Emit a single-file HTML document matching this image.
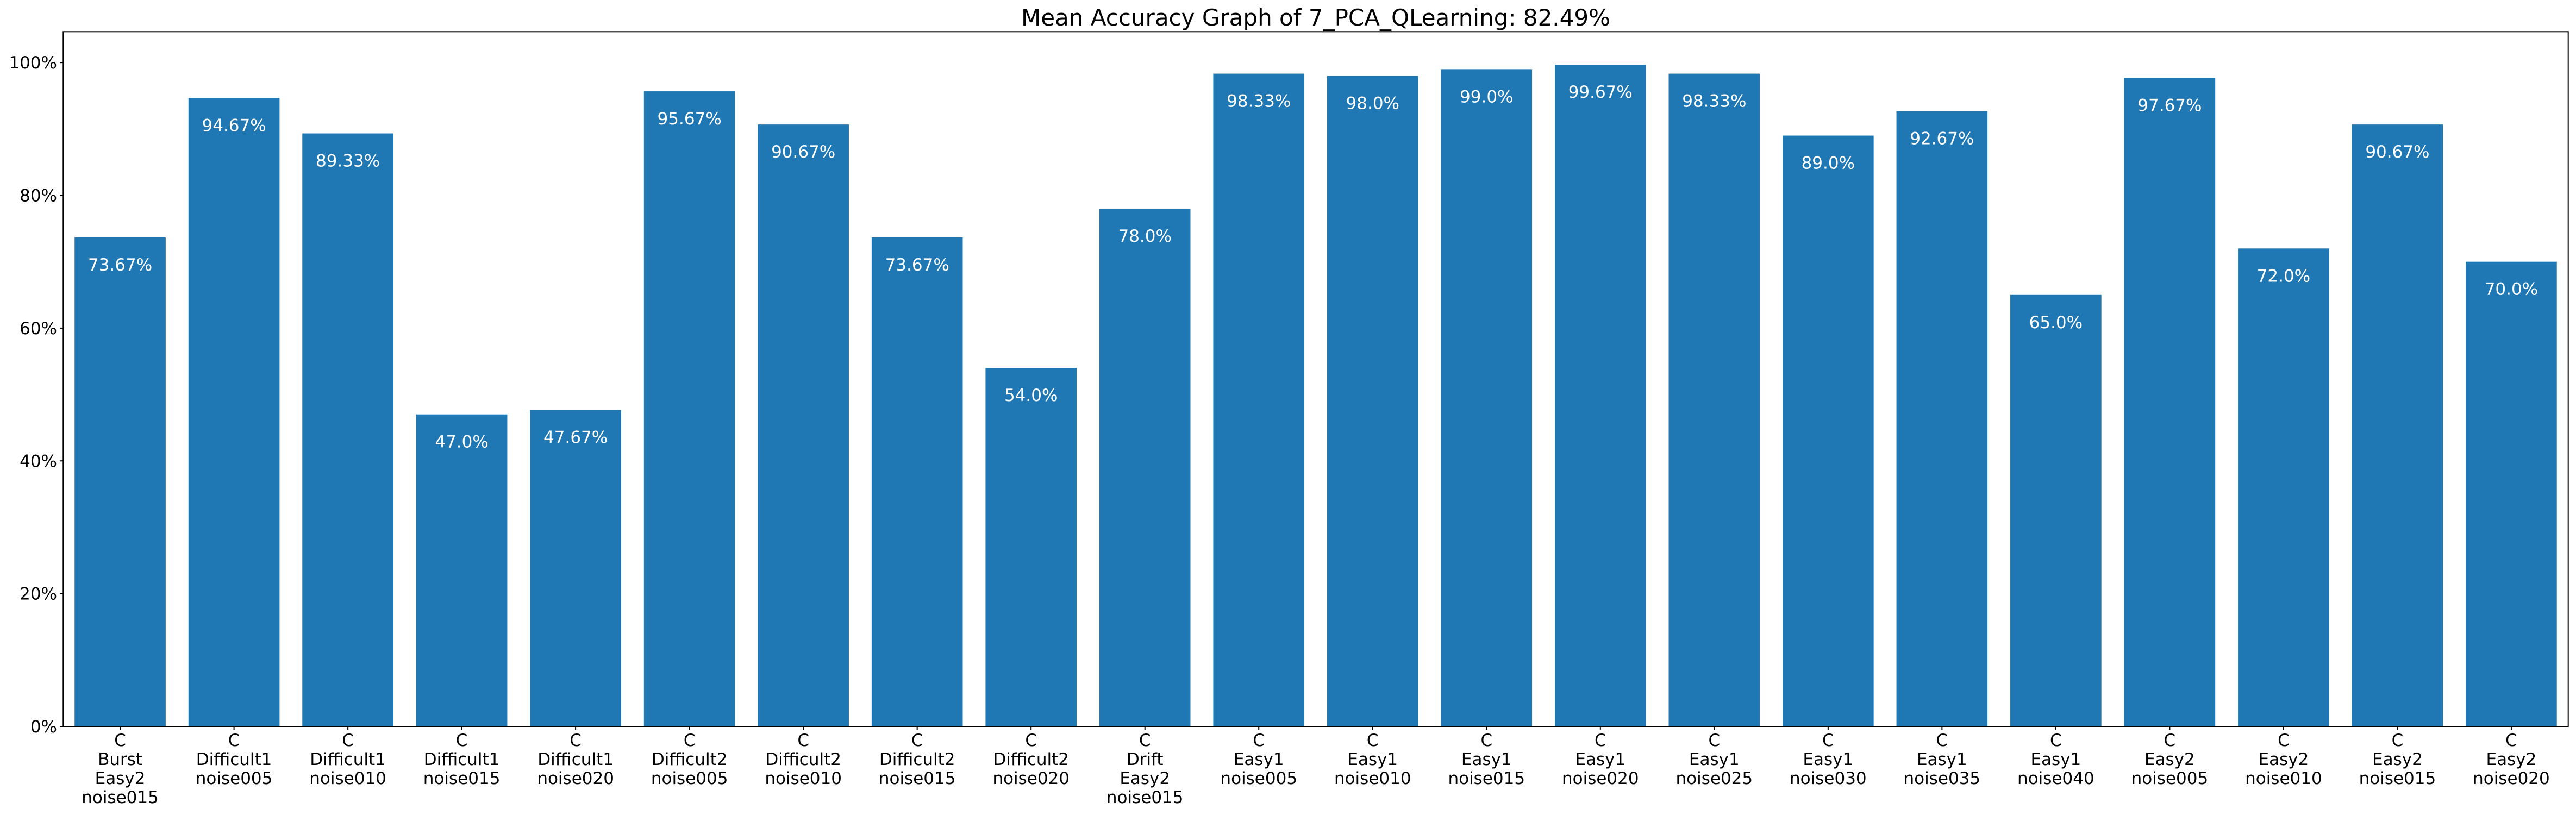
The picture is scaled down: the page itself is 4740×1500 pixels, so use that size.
<!DOCTYPE html>
<html><head><meta charset="utf-8"><style>
html,body{margin:0;padding:0;background:#fff;}
svg{display:block;font-family:"DejaVu Sans","Liberation Sans",sans-serif;}
</style></head><body>
<svg id="chart" width="4740" height="1500" viewBox="0 0 4740 1500" xmlns="http://www.w3.org/2000/svg">
<rect x="0" y="0" width="4740" height="1500" fill="#fff"/>
<text x="2421" y="47" font-size="42" text-anchor="middle" fill="#000">Mean Accuracy Graph of 7_PCA_QLearning: 82.49%</text>
<g id="bars"></g>
<g id="yaxis"></g>
<g id="xaxis"></g>
<rect x="116.3" y="58.3" width="4609.4" height="1278.7" fill="none" stroke="#000" stroke-width="2"/>
</svg>
<script>
const categories = [
"C\nBurst\nEasy2\nnoise015","C\nDifficult1\nnoise005","C\nDifficult1\nnoise010","C\nDifficult1\nnoise015","C\nDifficult1\nnoise020",
"C\nDifficult2\nnoise005","C\nDifficult2\nnoise010","C\nDifficult2\nnoise015","C\nDifficult2\nnoise020","C\nDrift\nEasy2\nnoise015",
"C\nEasy1\nnoise005","C\nEasy1\nnoise010","C\nEasy1\nnoise015","C\nEasy1\nnoise020","C\nEasy1\nnoise025","C\nEasy1\nnoise030",
"C\nEasy1\nnoise035","C\nEasy1\nnoise040","C\nEasy2\nnoise005","C\nEasy2\nnoise010","C\nEasy2\nnoise015","C\nEasy2\nnoise020"];
const values = [73.67,94.67,89.33,47.0,47.67,95.67,90.67,73.67,54.0,78.0,98.33,98.0,99.0,99.67,98.33,89.0,92.67,65.0,97.67,72.0,90.67,70.0];
const valueLabels = ["73.67%","94.67%","89.33%","47.0%","47.67%","95.67%","90.67%","73.67%","54.0%","78.0%","98.33%","98.0%","99.0%","99.67%","98.33%","89.0%","92.67%","65.0%","97.67%","72.0%","90.67%","70.0%"];
const yTicks = [0,20,40,60,80,100];
const yTickLabels = ["0%","20%","40%","60%","80%","100%"];

const NS = "http://www.w3.org/2000/svg";
const L = 116.3, R = 4725.7, T = 58.3, B = 1337;
const yMax = Math.max(...values) * 1.05;
const n = categories.length;
function xPos(i){ return L + (i + 0.5) / n * (R - L); }
function yPos(v){ return B - v / yMax * (B - T); }
const step = (R - L) / n, bw = step * 0.8;

const gb = document.getElementById('bars');
const gx = document.getElementById('xaxis');
const gy = document.getElementById('yaxis');
function mk(tag, attrs){ const e = document.createElementNS(NS, tag); for (const k in attrs) e.setAttribute(k, attrs[k]); return e; }

values.forEach((v, i) => {
  const r = mk('rect', {x: xPos(i) - bw/2, y: yPos(v), width: bw, height: B - yPos(v), fill: '#1f77b4'});
  
  
  gb.appendChild(r);
  const t = mk('text', {x: xPos(i), y: yPos(v) + 61, 'font-size': 31, fill: '#fff', 'text-anchor': 'middle'});
  t.textContent = valueLabels[i];
  
  
  gb.appendChild(t);
  const tk = mk('line', {x1: xPos(i), x2: xPos(i), y1: B, y2: B + 6, stroke: '#000', 'stroke-width': 2});
  
  
  gx.appendChild(tk);
  const lt = mk('text', {x: xPos(i), 'font-size': 31, fill: '#000', 'text-anchor': 'middle'});
  
  
  categories[i].split('\n').forEach((line, j) => {
    const s = mk('tspan', {x: xPos(i), y: 1373 + j * 35});
    s.textContent = line;
    lt.appendChild(s);
  });
  gx.appendChild(lt);
});
yTicks.forEach((v, i) => {
  const tk = mk('line', {x1: L - 6, x2: L, y1: yPos(v), y2: yPos(v), stroke: '#000', 'stroke-width': 2});
  
  
  gy.appendChild(tk);
  const t = mk('text', {x: 105, y: yPos(v) + 11, 'font-size': 31, fill: '#000', 'text-anchor': 'end'});
  t.textContent = yTickLabels[i];
  
  
  gy.appendChild(t);
});
</script>
</body></html>
